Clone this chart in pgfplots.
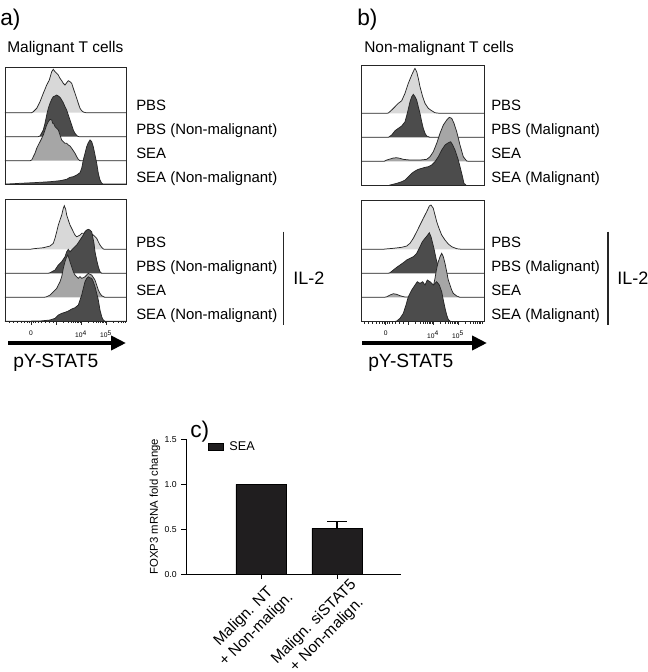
\documentclass[border=0pt]{standalone}
\usepackage{pgfplots}
\pgfplotsset{compat=1.18}
\usepackage{fontspec}
\setmainfont{Liberation Sans}
\usetikzlibrary{arrows.meta}
\definecolor{hl}{RGB}{216,216,216}
\definecolor{hd}{RGB}{76,76,76}
\definecolor{hm}{RGB}{166,166,166}
\definecolor{barc}{RGB}{32,30,31}
\pgfplotsset{
  flow/.style={scale only axis, y dir=reverse, axis on top,
    axis line style={line width=0.6pt, black!85}, xtick=\empty, ytick=\empty},
  flowticks/.style={xtick pos=left, tick align=outside,
    major tick length=2.4pt, minor tick length=1.4pt,
    every tick/.style={black!85, line width=0.4pt},
    x tick label style={font=\fontsize{5}{6}\selectfont, yshift=-1pt}},
  hist/.style={line width=0.55pt, draw=black!85},
}
\begin{document}
\begin{tikzpicture}
\path[use as bounding box] (0pt,0pt) rectangle (486pt,-504pt);

% ---------- panel a, top ----------
\begin{axis}[flow, at={(3.75pt,-138pt)}, anchor=south west,
  width=90.75pt, height=87.75pt, xmin=5, xmax=126, ymin=67, ymax=184]
\addplot[hist, fill=hl] coordinates {(5,112.7) (31.7,112.7) (33.3,111.7) (36.7,108.3) (40,101.7) (43.3,93.3) (46.7,85) (49.3,80) (51.7,71.7) (53.3,69.3) (55,71.7) (56.7,73.3) (58.3,75) (60,78.3) (61.7,80.7) (63.3,83.3) (65,85) (66.7,82.7) (68.3,80.7) (70,81.7) (71.7,83.3) (73.3,88.3) (75,93.3) (76.7,98.3) (78.3,103.3) (80,108.3) (81.7,110.7) (83.3,112) (86,112.7) (126,112.7)};
\addplot[hist, fill=hd] coordinates {(5,136.7) (38,136.7) (40,136) (43.3,130) (45,123.3) (46.7,115) (48.3,108.3) (50,103.3) (51.7,99.3) (53.3,96.7) (55,96) (56.7,95) (58.3,96) (60,97.3) (61.7,100) (63.3,102.7) (65,106.7) (66.7,110) (68.3,115) (70,120) (71.7,125) (73.3,130) (75,133.3) (77.3,136) (79,136.7) (126,136.7)};
\addplot[hist, fill=hm] coordinates {(5,160.7) (30,160.7) (31.7,160) (33.3,156.7) (35,153.3) (36.7,148.3) (38.3,145) (40,141.7) (41.7,138.3) (43.3,135) (45,130) (46.7,125) (48.3,121.7) (50,119.3) (51.7,120) (52.7,123.3) (54,124) (55,126.7) (56.7,128.3) (58.3,130) (60,135) (61.7,140) (63.3,141.7) (65,143.3) (66.7,143.3) (68.3,145) (70,146) (71.7,148.3) (73.3,150.7) (75,153.3) (76.7,156.7) (78.3,159.3) (80,160.7) (126,160.7)};
\addplot[hist, fill=hd] coordinates {(5,184) (12,183.8) (20,183.3) (33.3,182.7) (50,181.7) (60,180.7) (66.7,179.3) (70,177.3) (73.3,176.7) (76.7,175) (80,172.7) (81.7,168.3) (83.3,160) (85,153.3) (86.7,146.7) (88.3,142.7) (90,140) (91.7,141.7) (93.3,146.7) (95,155) (96.7,163.3) (98.3,173.3) (100,180) (101.7,183.3) (103,184) (126,184)};
\end{axis}

% ---------- panel a, bottom ----------
\begin{axis}[flow, flowticks, at={(3.75pt,-241pt)}, anchor=south west,
  width=90.75pt, height=91.5pt, xmin=5, xmax=126, ymin=199.3, ymax=321.3,
  xtick={31,56,81,106}, xticklabels={0,,10\textsuperscript{4},10\textsuperscript{5}},
  minor xtick={9,13,17,21,24,27,29,33,35,38,41,45,49,53,63.5,67.9,71.1,73.5,75.5,77.1,78.6,79.9,88.5,92.9,96.1,98.5,100.5,102.1,103.6,104.9,113.5,117.9,121.1,123.5,125.5}]
\addplot[hist, fill=hl] coordinates {(5,249.3) (30,249.3) (33.3,248.7) (43.3,247.7) (50,246) (53.3,243.3) (55,238.3) (56.7,231.7) (58.3,225) (60,220) (61.7,215) (63.3,208.3) (64.3,205.7) (65.7,209.3) (66.7,215) (68.3,220) (70,225) (71.7,228.3) (73.3,231.7) (75,235) (76.7,236.7) (78.3,236) (80,235) (81.7,233.3) (83.3,233.3) (86.7,232.7) (90,232.7) (93.3,235) (96.7,238.3) (98.3,241.7) (100,245) (101.7,247.3) (103.3,249) (105,249.3) (126,249.3)};
\addplot[hist, fill=hd] coordinates {(5,273.3) (48,273.3) (50,272.7) (55,270) (58.3,265) (61.7,261.7) (65,256.7) (66.7,251.7) (68.3,249.3) (70,251.7) (71.7,250) (73.3,248.3) (76.7,245) (80,240) (83.3,235) (85,231.7) (86.7,230) (88.3,229.3) (90,230) (91.7,231.7) (92.7,236.7) (94,243.3) (95,251.7) (96.7,260) (98.3,266.7) (100,271.7) (101.7,273.3) (126,273.3)};
\addplot[hist, fill=hm] coordinates {(5,297.3) (44,297.3) (46.7,296.7) (50,295) (53.3,291.7) (56.7,288.3) (58.3,285) (60,281.7) (61.7,276.7) (63.3,268.3) (65,261.7) (66.7,256.7) (67.7,255) (69,258.3) (70,261.7) (71.7,266.7) (73.3,271.7) (75,275) (76.7,276.7) (78.3,278.3) (80,276.7) (81.7,278.3) (83.3,277.7) (85,276.7) (86.7,275) (88.3,273.3) (90,274.3) (91.7,275) (95,280) (96.7,285) (98.3,290) (100,293.3) (101.7,295.7) (105,297.3) (126,297.3)};
\addplot[hist, fill=hd] coordinates {(5,321.3) (40,321) (50,320) (55,318.3) (58.3,315) (61.7,313.3) (65,312.3) (68.3,311) (71.7,309) (75,307.7) (78.3,305) (80,300) (81.7,295) (83.3,288.3) (85,281.7) (86.7,278.3) (88.3,276.7) (90,277.7) (91.7,278.3) (93.3,281.7) (95,286.7) (96.7,293.3) (98.3,300) (100,310) (101.7,316.7) (103.3,320) (105,321.3) (126,321.3)};
\end{axis}

% ---------- panel b, top ----------
\begin{axis}[flow, at={(270.75pt,-139.3pt)}, anchor=south west,
  width=92.25pt, height=90.15pt, xmin=361, xmax=484, ymin=65.5, ymax=185.7]
\addplot[hist, fill=hl] coordinates {(361,113.3) (386,113.3) (388.3,113) (391.7,110) (395,106.7) (398.3,103.3) (401.7,100.7) (405,93.3) (408.3,83.3) (411.7,75) (414,70) (415,68.3) (416.7,71.7) (418.3,78.3) (420,86.7) (422.7,96.7) (425,103.3) (428.3,108.3) (431.7,110.7) (435,112.7) (440,113.3) (484,113.3)};
\addplot[hist, fill=hd] coordinates {(361,137.3) (388.3,137.3) (391.7,135) (395,130.7) (398.3,128.3) (401.7,126) (405,121.7) (407.3,113.3) (410,101.7) (411.7,96.7) (413.3,94.3) (415,96.7) (416.7,100) (418.3,106.7) (420,113.3) (421.7,121.7) (423.3,128.3) (425,133.3) (426.7,136) (430,137.3) (484,137.3)};
\addplot[hist, fill=hm] coordinates {(361,161.3) (384,161.3) (386.7,160) (390,159) (393.3,158) (396.7,157.7) (400,158.3) (403.3,159.3) (410,160) (420,160) (426.7,159.3) (430,156.7) (433.3,151.7) (436.7,143.3) (440,133.3) (443.3,125) (446.7,120) (449.3,117.3) (451.7,118.3) (454,123.3) (456.7,131.7) (460,145) (463.3,156.7) (466.7,161) (470,161.3) (484,161.3)};
\addplot[hist, fill=hd] coordinates {(361,185.7) (388,185.7) (390,185) (396.7,183.3) (401.7,181.7) (405,180) (408.3,176.7) (411.7,173.3) (415,171) (418.3,169.3) (421.7,168.3) (425,167.3) (428.3,166.7) (431.7,165) (435,161.7) (438.3,156.7) (441.7,150) (445,145) (448.3,142.7) (450.7,141.7) (452.7,145) (455,150) (458.3,160) (461.7,173.3) (464,183.3) (466.7,185.7) (484,185.7)};
\end{axis}

% ---------- panel b, bottom ----------
\begin{axis}[flow, flowticks, at={(270.75pt,-241.3pt)}, anchor=south west,
  width=92.25pt, height=91.3pt, xmin=361, xmax=484, ymin=200, ymax=321.7,
  xtick={385.7,408,433,458}, xticklabels={0,,10\textsuperscript{4},10\textsuperscript{5}},
  minor xtick={364,368,372,376,379,382,384,387.5,389.5,392,395,399,403,415.5,419.9,423.1,425.5,427.5,429.1,430.6,431.9,440.5,444.9,448.1,450.5,452.5,454.1,455.6,456.9,465.5,469.9,473.1,475.5,477.5,479.1,480.6,481.9}]
\addplot[hist, fill=hl] coordinates {(361,249.3) (383,249.3) (385,249) (393.3,248.3) (401.7,247.3) (406.7,246) (410,243.3) (413.3,238.3) (416.7,231.7) (420,225) (423.3,218.3) (426.7,211.7) (429.3,206) (431,205) (433.3,208.3) (435,215) (436.7,221.7) (439,228.3) (441.7,235) (445,240) (448.3,244) (451.7,246.7) (456.7,248.7) (461.7,249.3) (484,249.3)};
\addplot[hist, fill=hd] coordinates {(361,273.3) (388,273.3) (390,272.7) (393.3,270) (396.7,267.3) (400,265) (403.3,262.7) (406.7,260) (410,258.3) (413.3,256.7) (416.7,253.3) (420,246.7) (422.3,241.7) (425,238.3) (427.7,235) (429.3,232.7) (431,236.7) (432.7,243.3) (434.3,250) (436,258.3) (437.7,265) (439.3,270) (441.7,273) (444,273.3) (484,273.3)};
\addplot[hist, fill=hm] coordinates {(361,297.3) (384,297.3) (386.7,296.8) (390,295) (393.3,293.7) (396.7,294.3) (400,295.7) (405,297) (416.7,297.3) (426.7,297) (430,295) (431.7,291.7) (433.3,286.7) (435,278.3) (436.7,268.3) (438.3,261.7) (440,256.7) (441.7,253.3) (443.3,256.7) (445,263.3) (446.7,271.7) (448.3,280) (450,285) (451.7,290) (453.3,293.3) (456.7,296) (460,297.3) (484,297.3)};
\addplot[hist, fill=hd] coordinates {(361,321.7) (394,321.7) (396.7,321) (400,318.3) (403.3,313.3) (406,305) (408.3,296.7) (411.7,290) (415,285) (417.3,281.7) (420,283.3) (422.7,281.7) (425,285) (427.3,280) (430,281.7) (433.3,285) (436.7,281.7) (439.3,285) (441.7,291.7) (443.3,300) (445,308) (446.7,315) (448.3,319.5) (450,321.2) (452,321.7) (484,321.7)};
\end{axis}

% ---------- panel c: bar chart ----------
\begin{axis}[at={(139.5pt,-430.7pt)}, anchor=south west, scale only axis,
  width=161.25pt, height=101.25pt,
  xmin=-0.987, xmax=1.842, ymin=0, ymax=1.5,
  axis x line*=bottom, axis y line*=left,
  axis line style={line width=0.7pt},
  xtick={0,1},
  xticklabels={{Malign. NT\\+ Non-malign.},{Malign. siSTAT5\\+ Non-malign.}},
  x tick label style={xshift=20pt, yshift=-5pt, rotate=45, anchor=east, align=center, font=\fontsize{11.6}{13.6}\selectfont},
  ytick={0,0.5,1,1.5}, yticklabels={0.0,0.5,1.0,1.5},
  y tick label style={font=\fontsize{6.5}{8}\selectfont},
  tick align=outside, major tick length=3.5pt,
  tick style={line width=0.7pt, black},
  ylabel={FOXP3 mRNA fold change},
  ylabel style={font=\fontsize{8.5}{10}\selectfont, at={(axis description cs:-0.144,0.5)}, anchor=center},
  legend style={draw=none, fill=none, at={(0.081,0.945)}, anchor=west, font=\fontsize{9.5}{11}\selectfont},
  legend image code/.code={\draw[fill=barc,draw=black] (0pt,-2.6pt) rectangle (11.25pt,2.6pt);},
]
\addplot[ybar, bar width=0.66, fill=barc, draw=black, line width=0.6pt,
  error bars/.cd, y dir=plus, y explicit,
  error bar style={line width=0.8pt, black},
  error mark options={rotate=90, mark size=7.5pt, line width=0.8pt, black}]
  coordinates {(0,1.0) +- (0,0) (1,0.51) +- (0,0.08)};
\addlegendentry{\hspace{2.5pt}SEA}
\end{axis}

% ---------- annotations ----------
\begin{scope}[x=0.75pt, y=-0.75pt]
\node[anchor=base west, inner sep=0pt, font=\fontsize{17}{20}\selectfont] at (0,25) {a)};
\node[anchor=base west, inner sep=0pt, font=\fontsize{17}{20}\selectfont] at (357,25) {b)};
\node[anchor=base west, inner sep=0pt, font=\fontsize{17}{20}\selectfont] at (190,437) {c)};
\node[anchor=base west, inner sep=0pt, font=\fontsize{11.6}{14}\selectfont] at (7,52) {Malignant T cells};
\node[anchor=base west, inner sep=0pt, font=\fontsize{11.6}{14}\selectfont] at (364,52) {Non-malignant T cells};
\begin{scope}[every node/.style={anchor=base west, inner sep=0pt, font=\fontsize{11.2}{13}\selectfont}]
\node at (136,110) {PBS};
\node at (136,134) {PBS (Non-malignant)};
\node at (136,158) {SEA};
\node at (136,182) {SEA (Non-malignant)};
\node at (136,247) {PBS};
\node at (136,271) {PBS (Non-malignant)};
\node at (136,295) {SEA};
\node at (136,319) {SEA (Non-malignant)};
\node at (491,110) {PBS};
\node at (491,134) {PBS (Malignant)};
\node at (491,158) {SEA};
\node at (491,182) {SEA (Malignant)};
\node at (491,247) {PBS};
\node at (491,271) {PBS (Malignant)};
\node at (491,295) {SEA};
\node at (491,319) {SEA (Malignant)};
\end{scope}
\draw[line width=0.8pt, black!85] (283.3,231.7) -- (283.3,325);
\draw[line width=0.8pt, black!85] (608,231.7) -- (608,325);
\node[anchor=base west, inner sep=0pt, font=\fontsize{13.5}{16}\selectfont] at (293,284.5) {IL-2};
\node[anchor=base west, inner sep=0pt, font=\fontsize{13.5}{16}\selectfont] at (617,284.5) {IL-2};
\draw[line width=3pt, -{Triangle[length=11.25pt,width=10.5pt]}] (8,343) -- (126,343);
\draw[line width=3pt, -{Triangle[length=11.25pt,width=10.5pt]}] (362,343) -- (487,343);
\node[anchor=base west, inner sep=0pt, font=\fontsize{14.4}{17}\selectfont] at (13,367) {pY-STAT5};
\node[anchor=base west, inner sep=0pt, font=\fontsize{14.4}{17}\selectfont] at (368,367) {pY-STAT5};
\end{scope}
\end{tikzpicture}
\end{document}
